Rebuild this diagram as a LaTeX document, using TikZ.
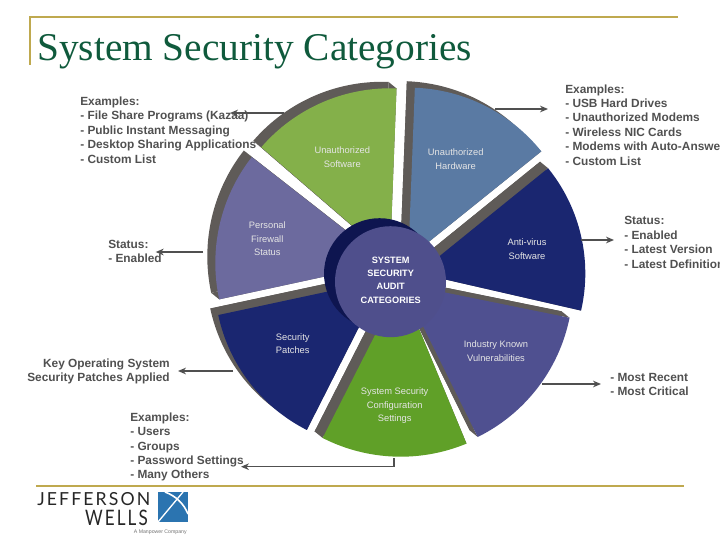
\documentclass[tikz,border=0pt]{standalone}
\usepackage{fontspec}
\setmainfont{Liberation Sans}
\newfontfamily\titlefont{Liberation Serif}
\newfontfamily\logofont[LetterSpace=12]{Lato}
\usetikzlibrary{arrows.meta}
\definecolor{ruleGold}{HTML}{BFA94F}
\definecolor{titleGreen}{HTML}{0F5A3C}
\definecolor{bandGrey}{HTML}{5F5B58}
\definecolor{hubBlue}{HTML}{4F4F8C}
\definecolor{hubDark}{HTML}{0E1550}
\definecolor{softGreen}{HTML}{84B04A}
\definecolor{hardBlue}{HTML}{5A7AA3}
\definecolor{navySlice}{HTML}{1A2670}
\definecolor{vulnBlue}{HTML}{4F5090}
\definecolor{confGreen}{HTML}{60A028}
\definecolor{wallPurple}{HTML}{6C6A9E}
\definecolor{noteGrey}{HTML}{505050}
\definecolor{logoBlue}{HTML}{2B74B0}

\begin{document}
\begin{tikzpicture}
  [x=.75pt, y=.75pt,
   note/.style={inner sep=0pt, align=left, text=noteGrey, font=\fontsize{8.9}{10.8}\selectfont\bfseries},
   slicetext/.style={inner sep=0pt, align=center, text=white!90!black, font=\fontsize{7}{10}\selectfont},
   leader/.style={draw=noteGrey, line width=1.1pt, -{Stealth[length=6pt,width=5pt]}},
   goldrule/.style={draw=ruleGold, line width=1.5pt}]

  \clip (0,0) rectangle (720,540);

  % header and footer rules
  \draw[goldrule] (30,475) -- (30,523) -- (678,523);
  \draw[goldrule] (36,54) -- (684,54);
  \node[anchor=base west, inner sep=0pt, text=titleGreen, font=\titlefont\fontsize{29.5}{30}\selectfont] (title) at (37,479) {System Security Categories};

  % the seven slices, apex / angles / radius / colour
  \foreach \ax/\ay/\from/\to/\rad/\col in {
      390/281.7/87.8/139.2/170/softGreen,
      408.3/281.7/38.8/87.8/170.7/hardBlue,
      418.3/266.7/-12.9/39/167/navySlice,
      402/256.3/-63.7/-11.5/171/vulnBlue,
      400.7/255.3/-117/-67.5/172/confGreen,
      383/260.3/192.1/243.1/168.5/navySlice,
      387.3/277/142/192.2/172/wallPurple}
  {
    \fill[bandGrey] (\ax-8,\ay+6.5) -- ++(\from:\rad) arc[start angle=\from, end angle=\to, radius=\rad] -- cycle;
    \fill[bandGrey] (\ax,\ay) -- ++(\from:\rad) -- ++(-8,6.5) -- ++(\from+180:\rad) -- cycle;
    \fill[bandGrey] (\ax,\ay) -- ++(\to:\rad) -- ++(-8,6.5) -- ++(\to+180:\rad) -- cycle;
    \fill[\col] (\ax,\ay) -- ++(\from:\rad) arc[start angle=\from, end angle=\to, radius=\rad] -- cycle;
  }

  % hub
  \fill[hubDark] (379.5,266.3) circle (55.5);
  \node[circle, fill=hubBlue, minimum size=83.25pt, inner sep=0pt] (hub) at (390.5,258.3) {};
  \node[inner sep=0pt, align=center, text=white, font=\fontsize{6.9}{10}\selectfont\bfseries] (hubtext) at (390.7,260) {SYSTEM\\SECURITY\\AUDIT\\CATEGORIES};

  \node[slicetext] (software) at (342.3,382.7) {Unauthorized\\Software};
  \node[slicetext] (hardware) at (455.7,380.7) {Unauthorized\\Hardware};
  \node[slicetext] (antivirus) at (527,291) {Anti-virus\\Software};
  \node[slicetext] (vulns) at (496,189) {Industry Known\\Vulnerabilities};
  \node[slicetext] (config) at (394.7,134.3) {System Security\\Configuration\\Settings};
  \node[slicetext] (patches) at (292.7,196.3) {Security\\Patches};
  \node[slicetext] (firewall) at (267.3,301.3) {Personal\\Firewall\\Status};

  % notes
  \node[note, anchor=west] (softnote) at (80,410) {Examples:\\- File Share Programs (Kazaa)\\- Public Instant Messaging\\- Desktop Sharing Applications\\- Custom List};
  \node[note, anchor=west] (hardnote) at (565,415.2) {Examples:\\- USB Hard Drives\\- Unauthorized Modems\\- Wireless NIC Cards\\- Modems with Auto-Answer\\- Custom List};
  \node[note, anchor=west] (wallnote) at (108,288.3) {Status:\\- Enabled};
  \node[note, anchor=west] (virusnote) at (624,297.5) {Status:\\- Enabled\\- Latest Version\\- Latest Definition};
  \node[note, anchor=east, align=right] (patchnote) at (170,168.5) {Key Operating System\\Security Patches Applied};
  \node[note, anchor=west] (vulnnote) at (610,155.5) {- Most Recent\\- Most Critical};
  \node[note, anchor=west] (confnote) at (130,93) {Examples:\\- Users\\- Groups\\- Password Settings\\- Many Others};

  % leader lines
  \coordinate (softstart) at (284,427);
  \coordinate (softtip) at (230,427);
  \coordinate (hardstart) at (495,431);
  \coordinate (hardtip) at (548,431);
  \coordinate (wallstart) at (203,288);
  \coordinate (walltip) at (155.7,288);
  \coordinate (virusstart) at (581,300);
  \coordinate (virustip) at (614,300);
  \coordinate (patchstart) at (233,169);
  \coordinate (patchtip) at (178,169);
  \coordinate (vulnstart) at (542,156);
  \coordinate (vulntip) at (601,156);
  \coordinate (confstart) at (394,82);
  \coordinate (conftip) at (241,73.3);

  \foreach \from/\to in {softstart/softtip, hardstart/hardtip, wallstart/walltip, virusstart/virustip, patchstart/patchtip, vulnstart/vulntip}
    \draw[leader] (\from) -- (\to);
  \draw[leader, line width=.8pt] (confstart) |- (conftip);

  % logo
  \node[anchor=base west, inner sep=0pt, text=black!85, font=\logofont\fontsize{13.5}{14}\selectfont] (jefferson) at (37,35) {\scalebox{.98}[1]{JEFFERSON}};
  \node[anchor=base east, inner sep=0pt, text=black!85, font=\logofont\fontsize{16}{16}\selectfont] (wells) at (148,14.5) {\scalebox{.8}[1]{WELLS}};
  \node[anchor=base east, inner sep=0pt, text=black!55, font=\fontsize{3.9}{4}\selectfont] (manpower) at (187,7) {A Manpower Company};
  \fill[logoBlue] (158,18) rectangle (188,48);
  \draw[white, line width=1pt] (158,18) -- (183,48);
  \draw[white, line width=1.2pt] (165,48) .. controls (176,44) and (184,36) .. (188,26);
\end{tikzpicture}
\end{document}
